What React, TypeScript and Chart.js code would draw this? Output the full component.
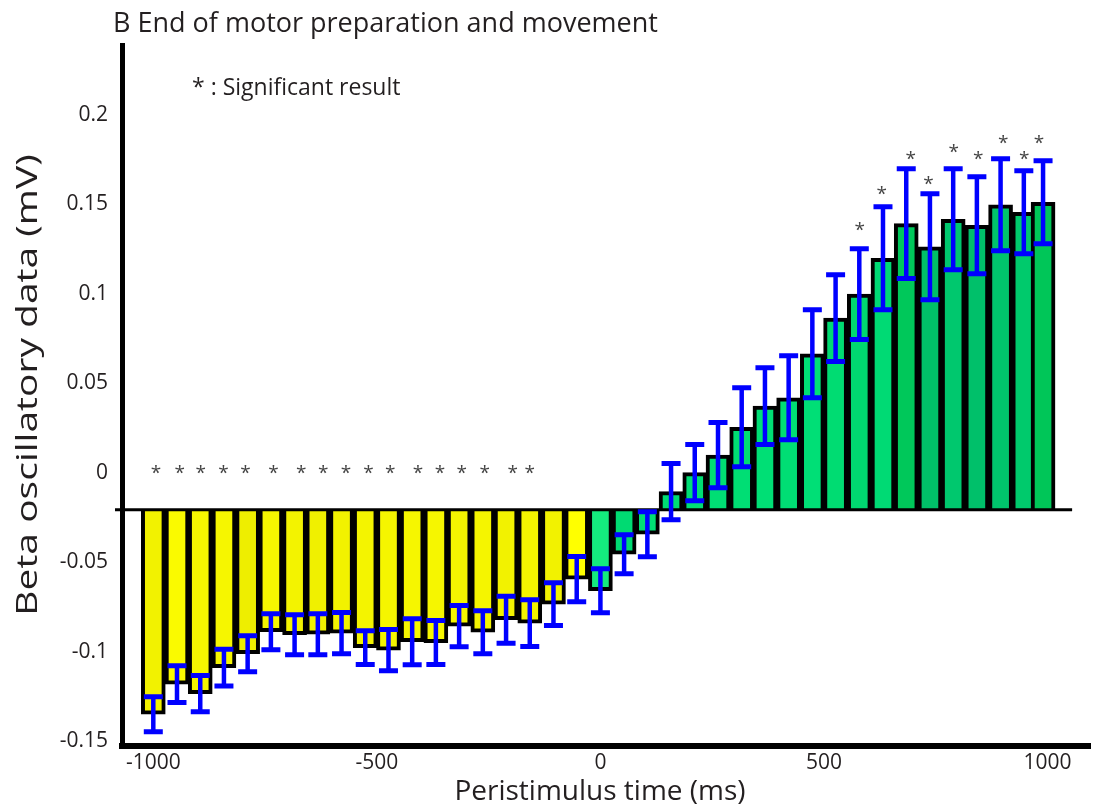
import React, { useEffect, useRef } from 'react';
import { Chart, registerables } from 'chart.js';

Chart.register(...registerables);

// Bin centres (ms) and mean beta power per bin
const TIMES_MS = [
  -1000, -947, -895, -842, -789, -737, -684, -632, -579, -526,
  -474, -421, -368, -316, -263, -211, -158, -105, -53, 0,
  53, 105, 158, 211, 263, 316, 368, 421, 474, 526,
  579, 632, 684, 737, 789, 842, 895, 947, 990,
];

const MEANS = [
  -0.135, -0.1182, -0.1235, -0.109, -0.1012, -0.0889, -0.0906, -0.0903, -0.0897, -0.0978,
  -0.0992, -0.0945, -0.095, -0.0858, -0.0892, -0.0822, -0.0841, -0.0735, -0.0595, -0.066,
  -0.0456, -0.0344, -0.0106, 0.0, 0.0098, 0.0254, 0.0372, 0.0419, 0.0665, 0.0864,
  0.0998, 0.1199, 0.1392, 0.1263, 0.1417, 0.1383, 0.1498, 0.1456, 0.1512,
];

// Half-length of each error bar (mV)
const ERRORS = [
  0.0098, 0.0103, 0.0101, 0.0103, 0.0101, 0.0101, 0.0112, 0.0115, 0.0115, 0.0095,
  0.0115, 0.0129, 0.0123, 0.0115, 0.012, 0.0131, 0.0131, 0.012, 0.0126, 0.0123,
  0.0109, 0.0126, 0.0157, 0.0157, 0.0182, 0.0221, 0.0215, 0.0235, 0.0246, 0.0243,
  0.0254, 0.0288, 0.0307, 0.0296, 0.0282, 0.0271, 0.0257, 0.0232, 0.0232,
];

const BAR_COLORS = [
  '#F2F200', '#FAFA00', '#F6F600', '#F6F600', '#EEEE00', '#F5F500', '#F3F300', '#F0F000', '#F2F200', '#F4F400',
  '#F5F500', '#F6F600', '#F6F600', '#F4F400', '#F5F500', '#F2F200', '#F4F400', '#F2F200', '#FFFF00', '#14EB7E',
  '#00DA72', '#00DF74', '#00DD73', '#00DE74', '#00DE74', '#00DE74', '#00DF75', '#00DE74', '#00DF76', '#00DC72',
  '#00D870', '#00DA74', '#00C85A', '#00C068', '#00C86E', '#00C06A', '#00C46C', '#00CA6C', '#00C658',
];

// Bars hang from this level rather than from zero
const BAR_BASE = -0.0207;
const BASELINE_END_MS = 1055;

const X_TICKS = [-1000, -500, 0, 500, 1000];
const Y_TICKS = [0.2, 0.15, 0.1, 0.05, 0, -0.05, -0.1, -0.15];

// Significance markers
const STAR_X_MS = [
  -994, -941, -894, -843, -794, -731, -669, -620, -569, -519,
  -470, -408, -359, -310, -259, -196, -158,
  580, 629, 694, 734, 790, 845, 901, 948, 981,
];
const STAR_Y = [
  0.0017, 0.0017, 0.0017, 0.0017, 0.0017, 0.0017, 0.0017, 0.0017, 0.0017, 0.0017,
  0.0017, 0.0017, 0.0017, 0.0017, 0.0017, 0.0017, 0.0017,
  0.1377, 0.1576, 0.1774, 0.1634, 0.1811, 0.1772, 0.1861, 0.1774, 0.1861,
];

const TITLE = 'B End of motor preparation and movement';
const LEGEND_TEXT = '* : Significant result';
const X_TITLE = 'Peristimulus time (ms)';
const Y_TITLE = 'Beta oscillatory data (mV)';

const FONT = '"Open Sans", "DejaVu Sans", sans-serif';
const TEXT_COLOR = '#231F20';

const annotations = {
  id: 'annotations',
  afterDatasetsDraw(chart: any) {
    const { ctx, chartArea, scales } = chart;
    const x = scales.x;
    const y = scales.y;
    ctx.save();

    // base line the bars hang from
    const yb = y.getPixelForValue(BAR_BASE);
    ctx.strokeStyle = '#000';
    ctx.lineWidth = 3;
    ctx.beginPath();
    ctx.moveTo(chartArea.left - 7, yb);
    ctx.lineTo(x.getPixelForValue(BASELINE_END_MS), yb);
    ctx.stroke();

    // error bars
    ctx.strokeStyle = '#0000FF';
    ctx.lineCap = 'butt';
    MEANS.forEach((m, i) => {
      const px = x.getPixelForValue(TIMES_MS[i]);
      const top = y.getPixelForValue(m + ERRORS[i]);
      const bot = y.getPixelForValue(m - ERRORS[i]);
      ctx.lineWidth = 4.5;
      ctx.beginPath();
      ctx.moveTo(px, top);
      ctx.lineTo(px, bot);
      ctx.stroke();
      ctx.lineWidth = 5;
      ctx.beginPath();
      ctx.moveTo(px - 9.5, top);
      ctx.lineTo(px + 9.5, top);
      ctx.moveTo(px - 9.5, bot);
      ctx.lineTo(px + 9.5, bot);
      ctx.stroke();
    });

    // significance stars, centred on their positions
    ctx.fillStyle = '#454545';
    ctx.font = `19px ${FONT}`;
    ctx.textAlign = 'center';
    ctx.textBaseline = 'alphabetic';
    const m = ctx.measureText('*');
    const shift = (m.actualBoundingBoxAscent - m.actualBoundingBoxDescent) / 2;
    STAR_X_MS.forEach((sx, i) => {
      ctx.fillText('*', x.getPixelForValue(sx), y.getPixelForValue(STAR_Y[i]) + shift);
    });
    ctx.restore();
  },
  afterDraw(chart: any) {
    const { ctx } = chart;
    ctx.save();
    ctx.fillStyle = TEXT_COLOR;
    ctx.textBaseline = 'alphabetic';

    ctx.textAlign = 'left';
    ctx.font = `27px ${FONT}`;
    ctx.fillText(TITLE, 113, 32);

    ctx.font = `23px ${FONT}`;
    ctx.fillText(LEGEND_TEXT, 192, 95);

    ctx.textAlign = 'center';
    ctx.font = `28px ${FONT}`;
    ctx.fillText(X_TITLE, 600, 800);

    // vertical title, stretched along its reading direction
    ctx.translate(37, 385);
    ctx.rotate(-Math.PI / 2);
    ctx.scale(1.3, 1);
    ctx.font = `30px ${FONT}`;
    ctx.fillText(Y_TITLE, 0, 0);
    ctx.restore();
  },
};

export default function App() {
  const canvasRef = useRef<HTMLCanvasElement>(null);

  useEffect(() => {
    const canvas = canvasRef.current;
    if (!canvas) return;
    const chart = new Chart(canvas, {
      type: 'bar',
      data: {
        datasets: [
          {
            data: TIMES_MS.map((t, i) => ({ x: t, y: MEANS[i] })),
            base: BAR_BASE,
            backgroundColor: BAR_COLORS,
            borderColor: '#000000',
            borderWidth: 4,
            borderSkipped: 'start',
            barThickness: 24,
          } as any,
        ],
      },
      options: {
        responsive: false,
        animation: false,
        events: [],
        layout: { padding: { top: 45, right: 4, left: 0, bottom: 0 } },
        plugins: {
          legend: { display: false },
          tooltip: { enabled: false },
          title: { display: false },
        },
        scales: {
          x: {
            type: 'linear',
            offset: false,
            min: -1070,
            max: 1095,
            afterBuildTicks: (axis: any) => {
              axis.ticks = X_TICKS.map((v) => ({ value: v }));
            },
            afterFit: (axis: any) => {
              axis.height = 61;
            },
            grid: { display: false, drawTicks: false, offset: false },
            border: { display: true, color: '#000000', width: 6 },
            ticks: {
              font: { family: FONT, size: 21 },
              color: TEXT_COLOR,
              padding: 4,
              maxRotation: 0,
              autoSkip: false,
              callback: (v: any) => String(v),
            },
          },
          y: {
            type: 'linear',
            min: -0.1528,
            max: 0.2391,
            afterBuildTicks: (axis: any) => {
              axis.ticks = Y_TICKS.map((v) => ({ value: v }));
            },
            afterFit: (axis: any) => {
              axis.width = 122;
            },
            grid: { display: false, drawTicks: false },
            border: { display: true, color: '#000000', width: 5 },
            ticks: {
              font: { family: FONT, size: 21 },
              color: TEXT_COLOR,
              padding: 14,
              autoSkip: false,
              callback: (v: any) => String(v),
            },
          },
        },
      },
      plugins: [annotations],
    } as any);
    return () => chart.destroy();
  }, []);

  return (
    <div style={{ position: 'fixed', left: 0, top: 0, width: 1094, height: 807, background: '#ffffff' }}>
      <canvas ref={canvasRef} width={1094} height={807} />
    </div>
  );
}
